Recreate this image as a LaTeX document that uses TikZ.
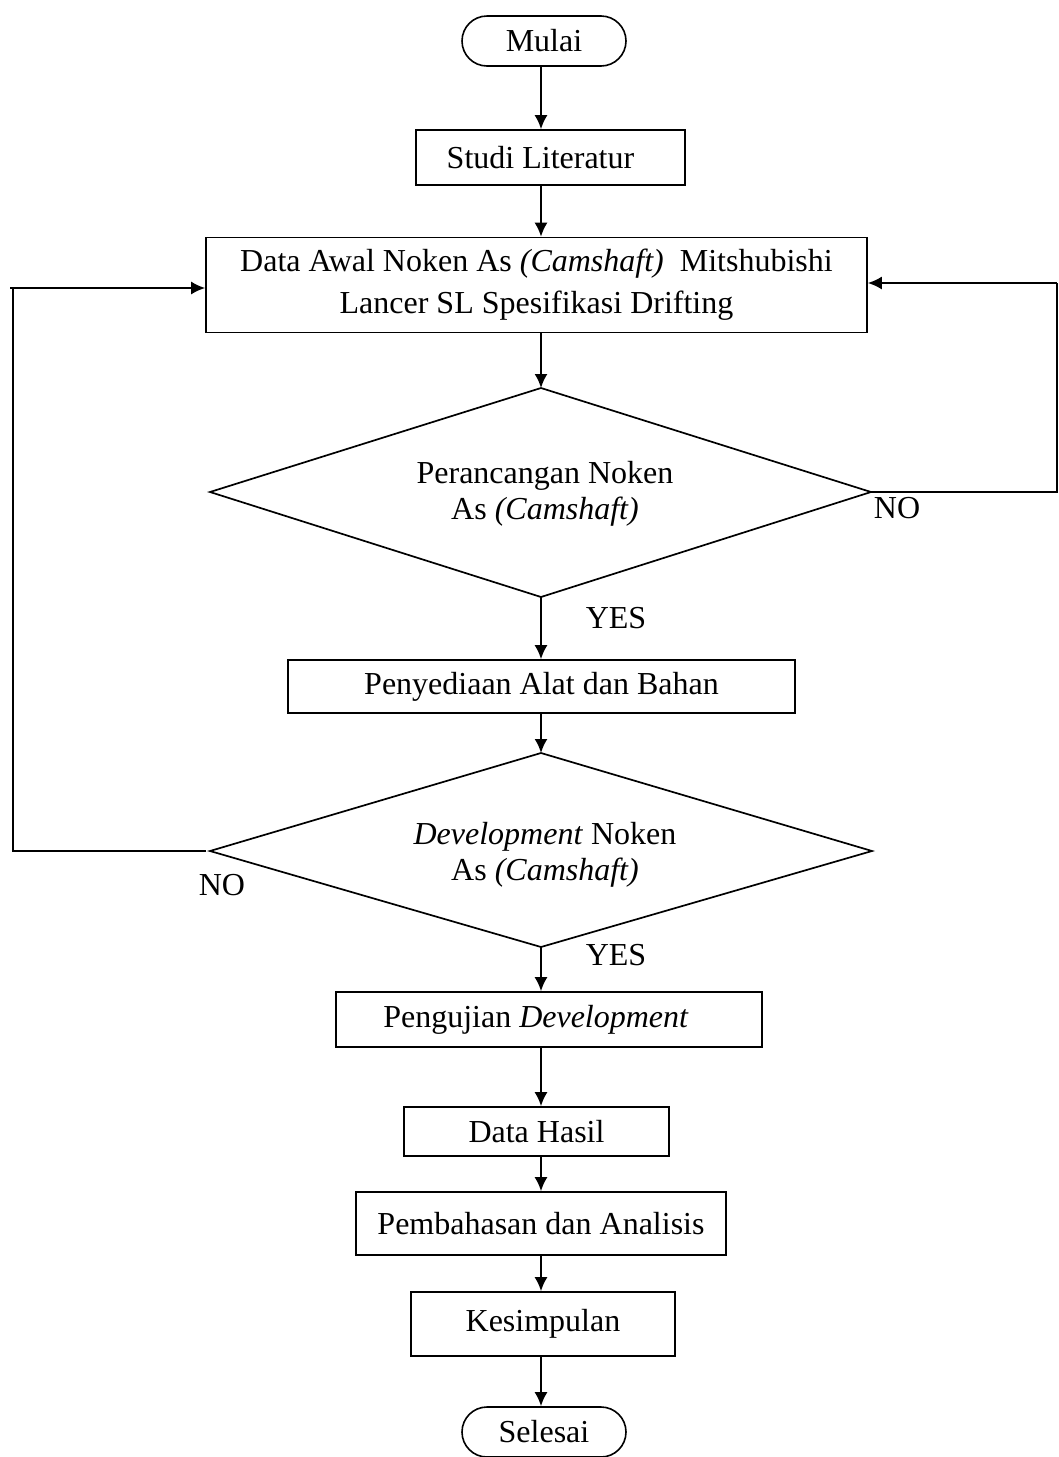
\documentclass[tikz,border=0pt]{standalone}
\usepackage{fontspec}
\setmainfont{Liberation Serif}
\usetikzlibrary{shapes.misc,arrows.meta}
\begin{document}
\begin{tikzpicture}[x=1pt,y=-1pt,
  every node/.style={font=\fontsize{32}{38}\selectfont},
  box/.style={draw,line width=1.6pt,rectangle,inner sep=0pt,align=center},
  term/.style={draw,line width=1.6pt,rounded rectangle,inner sep=0pt,minimum width=164pt,minimum height=50pt},
  decline/.style={line width=1.7pt,line join=miter},
  dtext/.style={inner sep=0pt,align=center,font=\fontsize{32}{36}\selectfont},
  arr/.style={line width=2pt,-{Latex[length=14pt,width=13pt]}},
  lbl/.style={inner sep=0pt}]
\useasboundingbox (0,0) rectangle (1059,1457);
\node[term] (mulai) at (544,41) {Mulai};
\node[box,minimum width=269pt,minimum height=55pt] (studi) at (550.5,157.5) {Studi Literatur\hspace*{20pt}};
\node[box,minimum width=661pt,minimum height=95pt,font=\fontsize{32}{42}\selectfont] (data) at (536.5,285) {Data Awal Noken As \textit{(Camshaft)}\ \ Mitshubishi\\Lancer SL Spesifikasi Drifting};
% decision 1
\coordinate (d1n) at (541,388);
\coordinate (d1s) at (541,597);
\coordinate (d1w) at (210,492);
\coordinate (d1e) at (871,492);
\draw[decline] (d1n) -- (d1e) -- (d1s) -- (d1w) -- cycle;
\node[dtext] (d1t) at (545,494) {Perancangan Noken\\As \textit{(Camshaft)}};
\node[box,minimum width=507pt,minimum height=53pt] (sedia) at (541.5,686.5) {Penyediaan Alat dan Bahan};
% decision 2
\coordinate (d2n) at (541,753);
\coordinate (d2s) at (541,947);
\coordinate (d2w) at (210,851);
\coordinate (d2e) at (872,851);
\draw[decline] (d2n) -- (d2e) -- (d2s) -- (d2w) -- cycle;
\node[dtext] (d2t) at (545,855) {\textit{Development} Noken\\As \textit{(Camshaft)}};
\node[box,minimum width=426pt,minimum height=55pt] (uji) at (549,1019.5) {Pengujian \textit{Development}\hspace*{26pt}};
\node[box,minimum width=265pt,minimum height=49pt] (hasil) at (536.5,1131.5) {Data Hasil};
\node[box,minimum width=370pt,minimum height=63pt] (bahas) at (541,1223.5) {Pembahasan dan Analisis};
\node[box,minimum width=264pt,minimum height=64pt] (simpul) at (543,1324) {Kesimpulan};
\node[term] (selesai) at (544,1432) {Selesai};
\coordinate (ax) at (541,0);
\draw[arr] (mulai.south -| ax) -- (studi.north -| ax);
\draw[arr] (studi.south -| ax) -- (data.north -| ax);
\draw[arr] (data.south -| ax) -- (d1n);
\draw[arr] (d1s) -- (sedia.north -| ax);
\draw[arr] (sedia.south -| ax) -- (d2n);
\draw[arr] (d2s) -- (uji.north -| ax);
\draw[arr] (uji.south -| ax) -- (hasil.north -| ax);
\draw[arr] (hasil.south -| ax) -- (bahas.north -| ax);
\draw[arr] (bahas.south -| ax) -- (simpul.north -| ax);
\draw[arr] (simpul.south -| ax) -- (selesai.north -| ax);
\coordinate (r1) at (1057,283);
\draw[line width=2pt] (d1e) -- (d1e -| r1) -- (r1);
\draw[arr] (r1) -- (r1 -| data.east);
\coordinate (l1) at (13,288);
\draw[line width=2pt] ([xshift=-4pt]d2w) -- (d2w -| l1) -- (l1);
\draw[arr] ([xshift=-3pt]l1) -- (l1 -| data.west);
\node[lbl] (no1) at (897,508) {NO};
\node[lbl] (yes1) at (616,618) {YES};
\node[lbl] (no2) at (222,885) {NO};
\node[lbl] (yes2) at (616,955) {YES};
\end{tikzpicture}
\end{document}
